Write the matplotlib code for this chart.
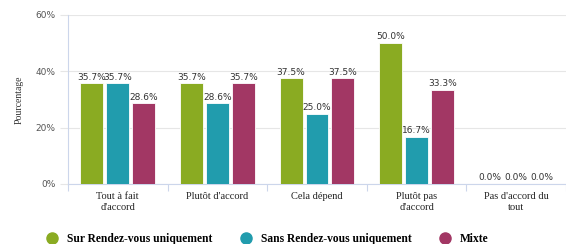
import matplotlib.pyplot as plt
import numpy as np
from matplotlib.lines import Line2D

categories = ["Tout à fait\nd'accord", "Plutôt d'accord", "Cela dépend", "Plutôt pas\nd'accord", "Pas d'accord du\ntout"]
series_names = ["Sur Rendez-vous uniquement", "Sans Rendez-vous uniquement", "Mixte"]
sur_rdv = [35.7, 35.7, 37.5, 50.0, 0.0]
sans_rdv = [35.7, 28.6, 25.0, 16.7, 0.0]
mixte = [28.6, 35.7, 37.5, 33.3, 0.0]
colors = ['#8aab22', '#219cad', '#a23764']

fig = plt.figure(figsize=(5.66, 2.44), dpi=100)
ax = fig.add_axes([0.120, 0.246, 0.88, 0.693])

x = np.arange(len(categories))
w = 0.23
gap = 0.03
for i, (vals, c) in enumerate(zip([sur_rdv, sans_rdv, mixte], colors)):
    pos = x + (i - 1) * (w + gap)
    ax.bar(pos, vals, width=w, color=c, edgecolor='white', linewidth=0.6, zorder=3)
    for p, v in zip(pos, vals):
        ax.text(p, v + 0.6, f"{v:.1f}%", ha='center', va='bottom', fontsize=6.5,
                color='#333333', family='DejaVu Sans', zorder=4)

ax.set_xlim(-0.5, len(categories) - 0.5)
ax.set_ylim(0, 60)
ax.set_yticks([0, 20, 40, 60])
ax.set_yticklabels(['0%', '20%', '40%', '60%'], fontsize=6.5, color='#555555')
ax.yaxis.grid(True, color='#e6e6e6', linewidth=0.8, zorder=0)
ax.tick_params(axis='y', length=6, color='#e6e6e6', pad=3)

ax.set_xticks(x)
ax.set_xticklabels(categories, fontsize=7.5, family='Liberation Serif', color='#222222')
ax.tick_params(axis='x', length=0, pad=6)
ax.set_xticks(np.arange(len(categories) + 1) - 0.5, minor=True)
ax.tick_params(axis='x', which='minor', length=5, color='#ccd6eb', width=0.8)

for s in ['top', 'right']:
    ax.spines[s].set_visible(False)
ax.spines['left'].set_color('#ccd6eb')
ax.spines['bottom'].set_color('#ccd6eb')

ax.set_ylabel('Pourcentage', fontsize=7, family='Liberation Serif', color='#333333', labelpad=8)

handles = [Line2D([0], [0], marker='o', linestyle='', markersize=8, color=c) for c in colors]
fig.legend(handles, series_names, loc='lower center', bbox_to_anchor=(0.468, -0.045), ncol=3,
           frameon=False, prop={'family': 'Liberation Serif', 'weight': 'bold', 'size': 8.3},
           handletextpad=0.3, columnspacing=1.9)

fig.savefig('out.png', dpi=100)
